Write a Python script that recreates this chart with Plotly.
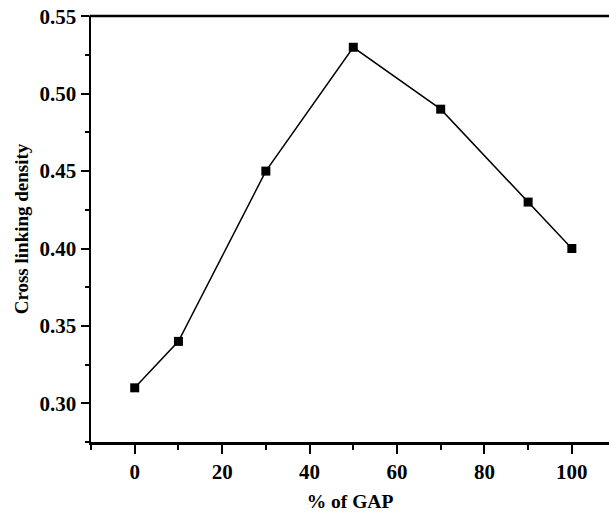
import plotly.graph_objects as go

gap_percent = [0, 10, 30, 50, 70, 90, 100]
crosslink_density = [0.31, 0.34, 0.45, 0.53, 0.49, 0.43, 0.40]

x_tickvals = [0, 20, 40, 60, 80, 100]
x_ticklabels = ["0", "20", "40", "60", "80", "100"]
y_tickvals = [0.30, 0.35, 0.40, 0.45, 0.50, 0.55]
y_ticklabels = ["0.30", "0.35", "0.40", "0.45", "0.50", "0.55"]

x_title = "% of GAP"
y_title = "Cross linking density"

FONT = "Liberation Serif"


def bold(s):
    return "<b>" + s + "</b>"


fig = go.Figure()
fig.add_trace(go.Scatter(
    x=gap_percent, y=crosslink_density, mode="lines+markers",
    line=dict(color="black", width=1.5),
    marker=dict(symbol="square", size=9, color="black"),
    showlegend=False, hoverinfo="skip",
))

fig.update_layout(
    width=609, height=517,
    margin=dict(l=91, r=0, t=16, b=75),
    paper_bgcolor="white", plot_bgcolor="white",
    font=dict(family=FONT, color="black"),
    shapes=[dict(type="line", xref="paper", yref="paper", x0=-0.003, x1=1.0, y0=1, y1=1,
                 line=dict(color="black", width=2.5), layer="above")],
)
fig.update_xaxes(
    range=[-10, 108.5], tickvals=x_tickvals, ticktext=[bold(t) for t in x_ticklabels],
    ticks="outside", ticklen=9, tickwidth=2, tickcolor="black",
    minor=dict(dtick=10, tick0=0, ticks="outside", ticklen=5, tickwidth=2, tickcolor="black"),
    showline=True, linewidth=2.5, linecolor="black", mirror=False,
    showgrid=False, zeroline=False, automargin=False, ticklabeloverflow="allow",
    tickfont=dict(family=FONT, size=21, color="black"),
    title=dict(text=bold(x_title), font=dict(family=FONT, size=19.5, color="black"), standoff=12),
)
fig.update_yaxes(
    range=[0.275, 0.5502], tickvals=y_tickvals, ticktext=[bold(t) for t in y_ticklabels],
    ticks="outside", ticklen=8, tickwidth=2, tickcolor="black",
    minor=dict(dtick=0.025, tick0=0.275, ticks="outside", ticklen=4, tickwidth=2, tickcolor="black"),
    showline=True, linewidth=2.5, linecolor="black", mirror=False,
    showgrid=False, zeroline=False, automargin=False, ticklabeloverflow="allow",
    tickfont=dict(family=FONT, size=21, color="black"),
    title=dict(text=bold(y_title), font=dict(family=FONT, size=19, color="black"), standoff=6),
)

fig.write_html(
    "out.html",
    config={"displayModeBar": False, "staticPlot": True},
    post_script="document.body.style.margin='0';document.body.style.overflow='hidden';",
)
